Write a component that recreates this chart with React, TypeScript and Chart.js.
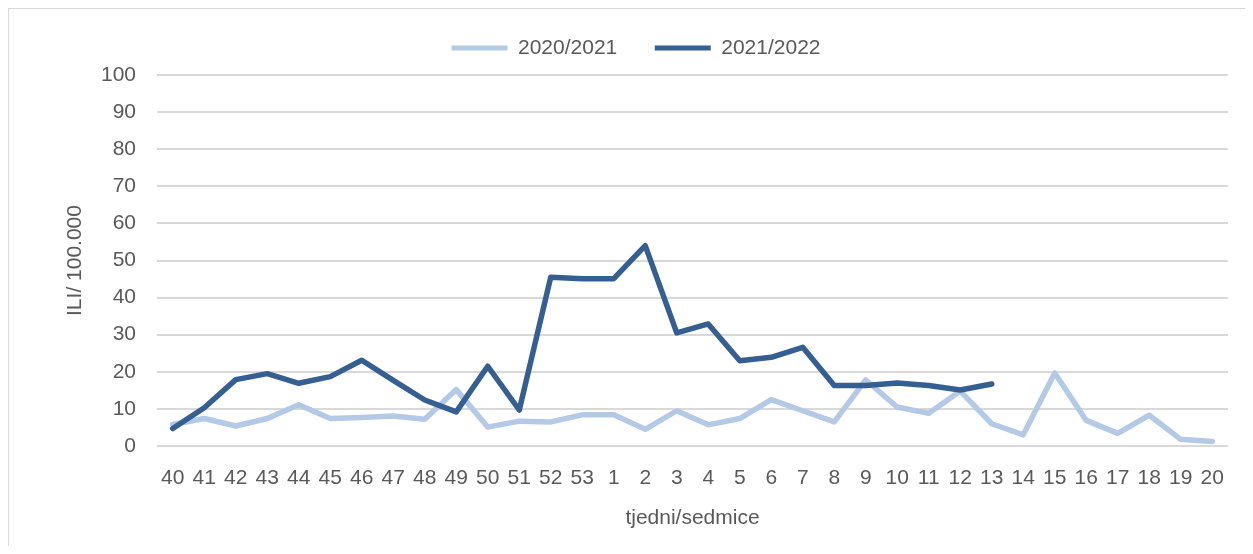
import React, { useEffect, useRef } from "react";
import { Chart, registerables } from "chart.js";

Chart.register(...registerables);

const weeks = [
  "40", "41", "42", "43", "44", "45", "46", "47", "48", "49", "50", "51", "52", "53",
  "1", "2", "3", "4", "5", "6", "7", "8", "9", "10", "11", "12", "13", "14", "15", "16", "17", "18", "19", "20",
];

const season2020 = [
  5.8, 7.4, 5.4, 7.4, 11.1, 7.4, 7.7, 8.1, 7.2, 15.2, 5.1, 6.7, 6.5, 8.4,
  8.4, 4.5, 9.5, 5.7, 7.4, 12.5, 9.5, 6.5, 17.8, 10.5, 8.8, 14.8, 6.0, 3.0, 19.7, 6.9, 3.4, 8.3, 1.8, 1.2,
];

const season2021 = [
  4.7, 10.3, 17.9, 19.5, 16.9, 18.7, 23.1, 17.7, 12.4, 9.2, 21.5, 9.7, 45.5, 45.1,
  45.1, 54.0, 30.5, 32.9, 23.0, 23.9, 26.6, 16.3, 16.3, 17.0, 16.3, 15.1, 16.7,
  null, null, null, null, null, null, null,
];

const seriesNames = ["2020/2021", "2021/2022"];
const yTicks = [0, 10, 20, 30, 40, 50, 60, 70, 80, 90, 100];

const LIGHT = "#b4c9e6";
const DARK = "#355f91";
const TEXT = "#595959";
const GRID = "#d9d9d9";
const FONT = "'Liberation Sans', Arial, sans-serif";

export default function App() {
  const ref = useRef<HTMLCanvasElement | null>(null);

  useEffect(() => {
    if (!ref.current) return;
    const legendHeight = {
      id: "legendHeight",
      beforeLayout(chart: any) {
        const lg = chart.legend;
        if (lg && !lg._patched) {
          const f = lg.fit.bind(lg);
          lg.fit = () => {
            f();
            lg.height = 75;
          };
          lg._patched = true;
        }
      },
    };
    const chart = new Chart(ref.current, {
      type: "line",
      data: {
        labels: weeks,
        datasets: [
          {
            label: seriesNames[0],
            data: season2020,
            borderColor: LIGHT,
            backgroundColor: LIGHT,
            borderWidth: 5.5,
            pointRadius: 0,
            tension: 0,
            borderJoinStyle: "round",
            borderCapStyle: "round",
            order: 1,
          },
          {
            label: seriesNames[1],
            data: season2021,
            borderColor: DARK,
            backgroundColor: DARK,
            borderWidth: 5.5,
            pointRadius: 0,
            tension: 0,
            borderJoinStyle: "round",
            borderCapStyle: "round",
            spanGaps: false,
            order: 0,
          },
        ],
      },
      options: {
        animation: false,
        responsive: false,
        devicePixelRatio: 1,
        layout: { padding: { left: 44, right: 25, top: 0, bottom: 0 } },
        plugins: {
          tooltip: { enabled: false },
          legend: {
            position: "top",
            labels: {
              color: TEXT,
              font: { family: FONT, size: 21 },
              padding: 37.5,
              boxWidth: 56,
              boxHeight: 5,
              useBorderRadius: true,
              borderRadius: 2.5,
              generateLabels: (ch: any) =>
                ch.data.datasets.map((ds: any, i: number) => ({
                  text: ds.label,
                  fillStyle: ds.borderColor,
                  strokeStyle: ds.borderColor,
                  lineWidth: 0,
                  fontColor: TEXT,
                  datasetIndex: i,
                  hidden: false,
                })),
            },
          },
        },
        scales: {
          x: {
            offset: true,
            grid: { display: false, drawTicks: false, offset: true },
            border: { display: false },
            ticks: {
              color: TEXT,
              font: { family: FONT, size: 21 },
              autoSkip: false,
              maxRotation: 0,
              minRotation: 0,
              padding: 20,
            },
            title: {
              display: true,
              text: "tjedni/sedmice",
              color: TEXT,
              font: { family: FONT, size: 21 },
              padding: { top: 0, bottom: 23.4 },
            },
            afterFit: (s: any) => {
              s.height = 108;
            },
          },
          y: {
            min: 0,
            max: 100,
            grid: { color: GRID, lineWidth: 2, drawTicks: false },
            border: { display: false },
            afterBuildTicks: (s: any) => {
              s.ticks = yTicks.map((v) => ({ value: v }));
            },
            ticks: {
              color: TEXT,
              font: { family: FONT, size: 21 },
              padding: 21,
            },
            title: {
              display: true,
              text: "ILI/ 100.000",
              color: TEXT,
              font: { family: FONT, size: 21 },
              padding: { top: 18.4, bottom: 0 },
            },
            afterFit: (s: any) => {
              s.width = 113;
            },
          },
        },
      },
      plugins: [legendHeight],
    });
    return () => chart.destroy();
  }, []);

  return (
    <div style={{ position: "relative", width: 1253, height: 554, margin: -8, overflow: "hidden", background: "#fff" }}>
      <div
        style={{
          position: "absolute",
          left: 7,
          top: 7,
          right: 0,
          bottom: 0,
          borderTop: `2px solid ${GRID}`,
          borderLeft: `2px solid ${GRID}`,
        }}
      />
      <canvas ref={ref} width={1253} height={554} style={{ position: "absolute", left: 0, top: 0 }} />
    </div>
  );
}
